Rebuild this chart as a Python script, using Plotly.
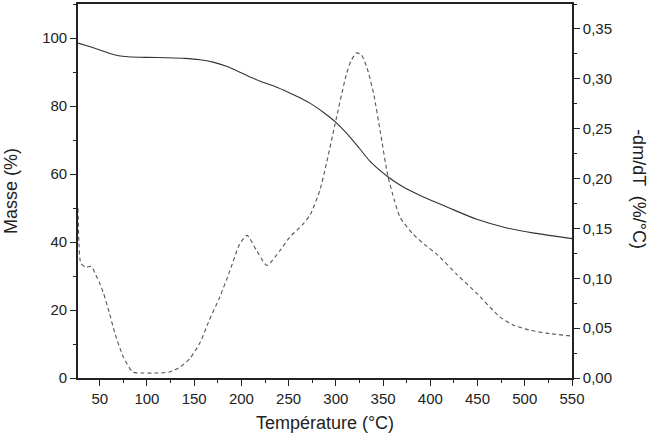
import plotly.graph_objects as go

# Mass curve (TGA), left axis
temp_mass = [27, 40, 50, 60, 70, 80, 100, 120, 140, 156, 170, 185, 195, 208, 220, 235, 250,
             262, 275, 287, 300, 312, 325, 336, 355, 370, 390, 420, 450, 480, 510, 530, 550]
mass = [98.5, 97.4, 96.5, 95.5, 94.8, 94.5, 94.3, 94.2, 94.0, 93.6, 92.9, 91.6, 90.4, 88.7,
        87.3, 85.8, 84.0, 82.4, 80.4, 78.1, 75.2, 71.8, 67.5, 63.8, 59.2, 56.4, 53.6, 50.0,
        46.6, 44.2, 42.6, 41.8, 41.0]

# Derivative curve (DTG), right axis
temp_dtg = [27, 28, 30, 35, 41, 46, 50, 54, 60, 66, 75, 85, 97, 110, 124, 135, 145, 156, 166,
            177, 188, 198, 206, 216, 227, 241, 251, 265, 273, 283, 290, 299, 311, 316, 322,
            327, 333, 340, 347, 355, 362, 368, 382, 395, 407, 428, 449, 474, 488, 505, 523, 550]
dtg = [0.17, 0.135, 0.115, 0.111, 0.112, 0.103, 0.095, 0.085, 0.066, 0.045, 0.021, 0.006, 0.005,
       0.005, 0.006, 0.011, 0.019, 0.035, 0.058, 0.081, 0.108, 0.134, 0.143, 0.128, 0.113,
       0.128, 0.141, 0.154, 0.164, 0.188, 0.215, 0.254, 0.304, 0.318, 0.326, 0.324, 0.311,
       0.285, 0.247, 0.203, 0.178, 0.161, 0.144, 0.133, 0.124, 0.104, 0.085, 0.061, 0.053,
       0.048, 0.045, 0.042]

x_title = "Température (°C)"
y_title = "Masse (%)"
y2_title = "-dm/dT  (%/°C)"

font_family = "Liberation Sans, Arial, sans-serif"

fig = go.Figure()
fig.add_trace(go.Scatter(x=temp_mass, y=mass, mode="lines",
                         line=dict(color="#333333", width=1.1, shape="spline", smoothing=0.8),
                         showlegend=False))
fig.add_trace(go.Scatter(x=temp_dtg, y=dtg, mode="lines", yaxis="y2",
                         line=dict(color="#555555", width=1.1, dash="4px,3px",
                                   shape="spline", smoothing=0.6),
                         showlegend=False))

axis_common = dict(showgrid=False, zeroline=False, showline=True, linecolor="#222222",
                   linewidth=1.6, ticks="outside", ticklen=6, tickwidth=1.3, tickcolor="#222222",
                   tickfont=dict(size=15, color="#222222", family=font_family))

fig.update_layout(
    width=652, height=441,
    margin=dict(l=78, r=80, t=2, b=63),
    paper_bgcolor="white", plot_bgcolor="white",
    separators=", ",
    font=dict(family=font_family, color="#222222"),
    xaxis=dict(range=[27, 550], dtick=50, tick0=0, mirror=True,
               minor=dict(dtick=25, ticks="outside", ticklen=3, tickcolor="#222222"),
               title=dict(text=x_title, font=dict(size=18), standoff=11),
               **axis_common),
    yaxis=dict(range=[0, 110], dtick=20, tick0=0,
               minor=dict(dtick=10, ticks="outside", ticklen=3, tickcolor="#222222"),
               title=dict(text=y_title, font=dict(size=18), standoff=20),
               **axis_common),
    yaxis2=dict(range=[0, 0.375], dtick=0.05, tick0=0, tickformat=".2f",
                overlaying="y", side="right",
                minor=dict(dtick=0.025, ticks="outside", ticklen=3, tickcolor="#222222"),
                **axis_common),
    annotations=[dict(text=y2_title, textangle=90, xref="paper", yref="paper",
                      x=1.0, y=0.505, xanchor="left", yanchor="middle", xshift=55,
                      showarrow=False, font=dict(size=18, color="#222222"))],
)

fig.write_html("out.html")
